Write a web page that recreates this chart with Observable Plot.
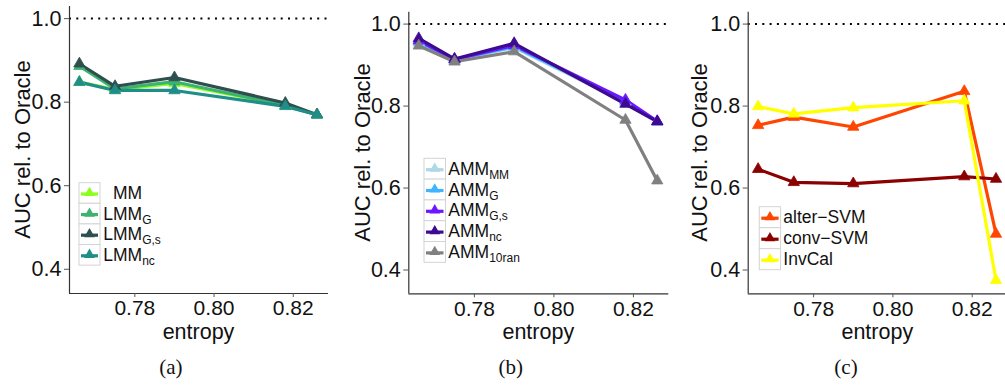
<!DOCTYPE html>
<html><head><meta charset="utf-8">
<script src="https://cdn.jsdelivr.net/npm/d3@7"></script>
<script src="https://cdn.jsdelivr.net/npm/@observablehq/plot@0.6"></script>
<style>
body{margin:0;background:#fff;}
#root{position:relative;width:1005px;height:385px;overflow:hidden;background:#fff;}
#root svg{position:absolute;top:0;}
</style></head><body><div id="root"></div>
<script>
// ---- data ----
const entropy = [0.766, 0.775, 0.790, 0.818, 0.826];
const xTicks = [0.78, 0.80, 0.82];
const yTicks = [0.4, 0.6, 0.8, 1.0];
const oracleRef = [1.0];
const xDomain = [0.7635, 0.8289];
const yDomain = [0.342, 1.029];

// panel (a)
const namesA = ["MM", "LMM_G", "LMM_G,s", "LMM_nc"];
const legendBaseA = ["\u00a0\u00a0MM", "LMM", "LMM", "LMM"];
const legendSubA = ["", "G", "G,s", "nc"];
const colorsA = ["#8CFF1E", "#3CB371", "#2F4F4F", "#1F8E88"];
const a_MM = [0.848, 0.830, 0.845, 0.792, 0.770];
const a_LMM_G = [0.886, 0.832, 0.849, 0.792, 0.770];
const a_LMM_Gs = [0.892, 0.838, 0.859, 0.798, 0.770];
const a_LMM_nc = [0.848, 0.828, 0.828, 0.790, 0.770];

// panel (b)
const namesB = ["AMM_MM", "AMM_G", "AMM_G,s", "AMM_nc", "AMM_10ran"];
const legendBaseB = ["AMM", "AMM", "AMM", "AMM", "AMM"];
const legendSubB = ["MM", "G", "G,s", "nc", "10ran"];
const colorsB = ["#ADD8E6", "#40B4FF", "#6B18FF", "#3D0A91", "#808080"];
const b_AMM_MM = [0.955, 0.912, 0.943, 0.810, 0.762];
const b_AMM_G = [0.957, 0.913, 0.945, 0.812, 0.762];
const b_AMM_Gs = [0.960, 0.914, 0.948, 0.815, 0.763];
const b_AMM_nc = [0.965, 0.915, 0.953, 0.805, 0.762];
const b_AMM_10ran = [0.947, 0.908, 0.933, 0.766, 0.618];

// panel (c)
const namesC = ["alter\u2212SVM", "conv\u2212SVM", "InvCal"];
const legendBaseC = ["alter\u2212SVM", "conv\u2212SVM", "InvCal"];
const legendSubC = ["", "", ""];
const colorsC = ["#FF4500", "#8B0000", "#FFFF00"];
const c_alterSVM = [0.753, 0.773, 0.749, 0.836, 0.488];
const c_convSVM = [0.646, 0.614, 0.611, 0.628, 0.622];
const c_InvCal = [0.799, 0.781, 0.796, 0.813, 0.375];

const yTitle = "AUC rel. to Oracle";
const xTitle = "entropy";
const captions = ["(a)", "(b)", "(c)"];

// ---- drawing ----
const root = document.getElementById("root");
const SANS = "'Liberation Sans', Arial, Helvetica, sans-serif";
const H = 345;

function drawPanel(cfg) {
  const rows = cfg.names.flatMap((name, i) =>
    cfg.values[i].map((v, j) => ({entropy: entropy[j], auc: v, method: name})));
  const chart = Plot.plot({
    width: cfg.width, height: H,
    marginLeft: cfg.ml, marginRight: cfg.mr, marginTop: cfg.mt, marginBottom: H - cfg.bottom,
    x: {domain: xDomain},
    y: {domain: yDomain},
    color: {domain: cfg.names, range: cfg.colors},
    style: {fontFamily: SANS, fontSize: "21.5px", background: "transparent", color: "#111"},
    marks: [
      Plot.ruleY(oracleRef, {stroke: "#000", strokeWidth: 2, strokeDasharray: "2 5.3"}),
      Plot.line(rows, {x: "entropy", y: "auc", z: "method", stroke: "method", strokeWidth: 3.2, strokeLinejoin: "round"}),
      Plot.dot(rows, {x: "entropy", y: "auc", fill: "method", stroke: "method", strokeWidth: 0.8, symbol: "triangle", r: 4.2}),
      Plot.ruleX([xDomain[0]], {stroke: "#333", strokeWidth: 1.2}),
      Plot.ruleY([yDomain[0]], {stroke: "#333", strokeWidth: 1.2}),
      Plot.axisX(xTicks, {tickFormat: d3.format(".2f"), tickSize: 4, tickPadding: 3, fontSize: 21, label: null, stroke: "#555"}),
      Plot.axisY(yTicks, {tickFormat: d3.format(".1f"), tickSize: 5, tickPadding: 3, label: null, stroke: "#555"})
    ]
  });
  chart.style.left = cfg.left + "px";
  root.appendChild(chart);
}

drawPanel({left: 0, width: 335, ml: 69, mr: 7, mt: 6, bottom: 293,
  names: namesA, colors: colorsA, values: [a_MM, a_LMM_G, a_LMM_Gs, a_LMM_nc]});
drawPanel({left: 340, width: 335, ml: 68.3, mr: 6.7, mt: 11.7, bottom: 293.3,
  names: namesB, colors: colorsB, values: [b_AMM_MM, b_AMM_G, b_AMM_Gs, b_AMM_nc, b_AMM_10ran]});
drawPanel({left: 670, width: 345, ml: 77.7, mr: 8, mt: 11.7, bottom: 293.3,
  names: namesC, colors: colorsC, values: [c_alterSVM, c_convSVM, c_InvCal]});

// overlay: titles, captions, legends
const ov = d3.select(root).append("svg")
  .attr("width", 1005).attr("height", 385)
  .style("left", "0px").style("pointer-events", "none");

const yTitlePos = [[30, 149.5], [370, 152.5], [706.7, 152.5]];
yTitlePos.forEach(([x, y]) => {
  ov.append("text").attr("transform", `translate(${x},${y}) rotate(-90)`)
    .attr("text-anchor", "middle").attr("font-family", SANS).attr("font-size", 22)
    .attr("fill", "#111").text(yTitle);
});
const xTitlePos = [198.5, 538.3, 877.3];
xTitlePos.forEach(x => {
  ov.append("text").attr("x", x).attr("y", 339).attr("text-anchor", "middle")
    .attr("font-family", SANS).attr("font-size", 21.5).attr("fill", "#111").text(xTitle);
});
const capPos = [170.8, 510.8, 846];
capPos.forEach((x, i) => {
  ov.append("text").attr("x", x).attr("y", 374).attr("text-anchor", "middle")
    .attr("font-family", "'Liberation Serif', 'Times New Roman', serif").attr("font-size", 21)
    .attr("fill", "#111").text(captions[i]);
});

function drawLegend(L) {
  const g = ov.append("g");
  L.bases.forEach((base, i) => {
    const top = L.y + i * L.rowH;
    const cx = L.x + L.boxW / 2, cy = top + L.rowH / 2;
    g.append("rect").attr("x", L.x).attr("y", top).attr("width", L.boxW).attr("height", L.rowH)
      .attr("fill", "#fff").attr("stroke", "#d4d4d4").attr("stroke-width", 1);
    g.append("line").attr("x1", L.x + 2).attr("x2", L.x + L.boxW - 2).attr("y1", cy + 1).attr("y2", cy + 1)
      .attr("stroke", L.colors[i]).attr("stroke-width", 3.2);
    g.append("path").attr("transform", `translate(${cx},${cy})`)
      .attr("d", d3.symbol(d3.symbolTriangle, 50)()).attr("fill", L.colors[i]);
    const t = g.append("text").attr("x", L.labelX).attr("y", cy + 6)
      .attr("font-family", SANS).attr("font-size", 17.5).attr("fill", "#111");
    t.append("tspan").text(base);
    if (L.subs[i]) t.append("tspan").attr("font-size", 12).attr("dy", 4).text(L.subs[i]);
  });
}
drawLegend({x: 79, y: 182.7, rowH: 20.6, boxW: 21, labelX: 103.3, bases: legendBaseA, subs: legendSubA, colors: colorsA});
drawLegend({x: 424, y: 158.3, rowH: 20.8, boxW: 21.5, labelX: 448.3, bases: legendBaseB, subs: legendSubB, colors: colorsB});
drawLegend({x: 759.3, y: 206.7, rowH: 21, boxW: 21.3, labelX: 783.3, bases: legendBaseC, subs: legendSubC, colors: colorsC});
</script></body></html>
